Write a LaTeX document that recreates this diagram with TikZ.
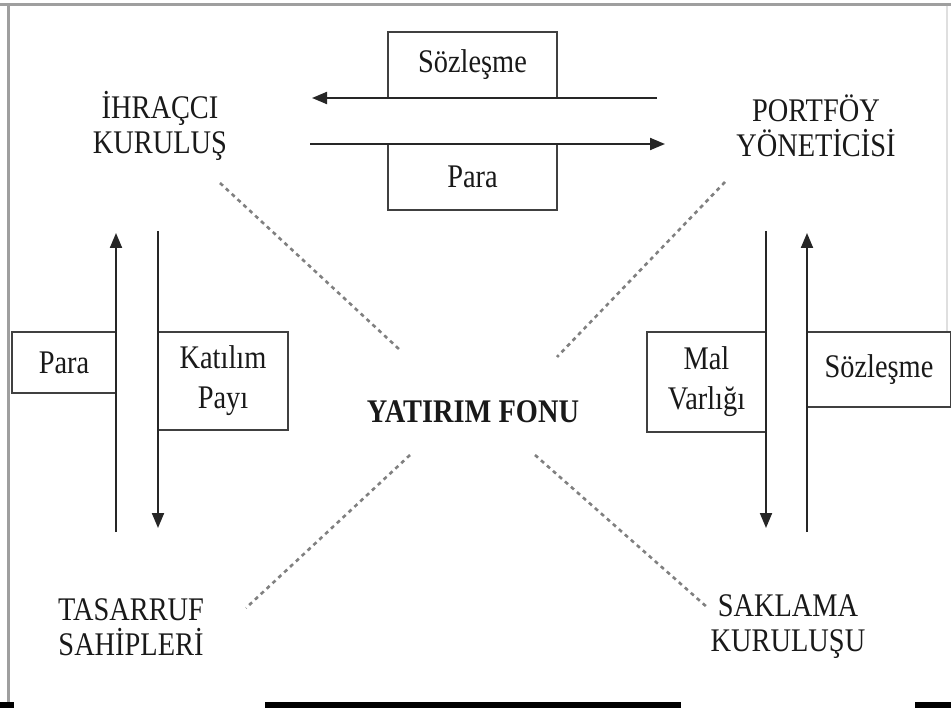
\documentclass[tikz,border=0pt]{standalone}
\usepackage{fontspec}
\setmainfont[FakeStretch=0.86]{Liberation Serif}
\usetikzlibrary{arrows.meta, positioning, calc}

\begin{document}
\begin{tikzpicture}[x=1pt, y=-1pt, >={Triangle[length=15pt, width=12pt]}, line join=miter]
	\useasboundingbox (0,0) rectangle (951,708);
	
	%======================
	% STYLES
	%======================
	\tikzset{
		frame/.style={line width=3pt, gray!75},
		flow/.style={line width=2pt, black!85},
		box/.style={draw=black!75, line width=2.2pt, rectangle, inner sep=0pt, align=center, text=black!90},
		actor/.style={align=center, text=black!90, inner sep=0pt},
		link/.style={line width=2.6pt, gray, dash pattern=on 4pt off 4pt},
		bar/.style={line width=6pt, black}
	}
	\def\txt{\fontsize{33}{35}\selectfont}
	\def\boxtxt{\fontsize{33}{40}\selectfont}
	
	% outer frame
	\draw[frame] (0,5) -- (951,5);
	\draw[frame] (8,5) -- (8,702);
	\draw[line width=1.5pt, gray!25] (947,6) -- (947,332);
	\draw[bar] (0,705) -- (14,705);
	\draw[bar] (265,705) -- (681,705);
	\draw[bar] (915,705) -- (951,705);
	
	%======================
	% ACTORS
	%======================
	\node[actor, font=\txt] (ihracci) at (160,126) {İHRAÇCI\\KURULUŞ};
	\node[actor, font=\txt] (portfoy) at (816,126) {PORTFÖY\\YÖNETİCİSİ};
	\node[actor, font=\txt\bfseries] (fon) at (473,412) {YATIRIM FONU};
	\node[actor, font=\txt] (tasarruf) at (131,627) {TASARRUF\\SAHİPLERİ};
	\node[actor, font=\txt] (saklama) at (788,627) {SAKLAMA\\KURULUŞU};
	
	%======================
	% FLOWS
	%======================
	% top: contract / money
	\node[box, font=\boxtxt, minimum width=169pt, minimum height=66pt] (sozTop) at (472.5,65) {Sözleşme};
	\node[box, font=\boxtxt, minimum width=169pt, minimum height=66pt] (paraTop) at (472.5,177) {Para};
	\coordinate (topAs) at (657,98);
	\coordinate (topAe) at (312,98);
	\coordinate (topBs) at (310,144);
	\coordinate (topBe) at (665,144);
	\draw[flow,->] (topAs) -- (topAe);
	\draw[flow,->] (topBs) -- (topBe);
	
	% left: money / share
	\node[box, font=\boxtxt, minimum width=104pt, minimum height=61pt] (paraL) at (64,362.5) {Para};
	\node[box, font=\boxtxt, minimum width=130pt, minimum height=98pt] (katilim) at (223,381) {Katılım\\Payı};
	\coordinate (upLs) at (116,532);
	\coordinate (upLe) at (116,233);
	\coordinate (dnLs) at (158,231);
	\coordinate (dnLe) at (158,528);
	\draw[flow,->] (upLs) -- (upLe);
	\draw[flow,->] (dnLs) -- (dnLe);
	
	% right: assets / contract
	\node[box, font=\boxtxt, minimum width=119pt, minimum height=100pt] (malvar) at (706.5,382) {Mal\\Varlığı};
	\node[box, font=\boxtxt, minimum width=144pt, minimum height=75pt] (sozR) at (879,369.5) {Sözleşme};
	\coordinate (dnRs) at (766,231);
	\coordinate (dnRe) at (766,528);
	\coordinate (upRs) at (807,532);
	\coordinate (upRe) at (807,233);
	\draw[flow,->] (dnRs) -- (dnRe);
	\draw[flow,->] (upRs) -- (upRe);
	
	%======================
	% LINKS TO THE FUND
	%======================
	\coordinate (l1a) at (220,183);
	\coordinate (l1b) at (400,350);
	\coordinate (l2a) at (725,182);
	\coordinate (l2b) at (557,357);
	\coordinate (l3a) at (410,455);
	\coordinate (l3b) at (246,608);
	\coordinate (l4a) at (535,455);
	\coordinate (l4b) at (708,608);
	\draw[link] (l1a) -- (l1b);
	\draw[link] (l2a) -- (l2b);
	\draw[link] (l3a) -- (l3b);
	\draw[link] (l4a) -- (l4b);
\end{tikzpicture}
\end{document}
